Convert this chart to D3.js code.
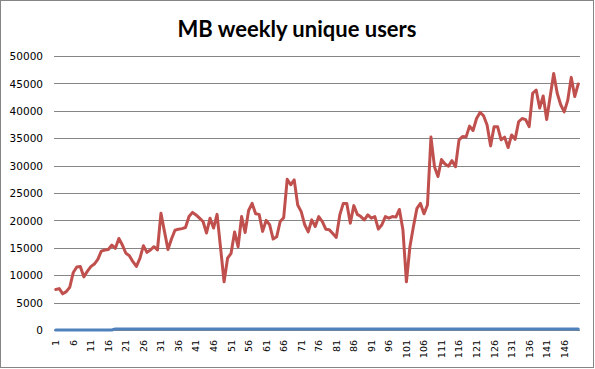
<!DOCTYPE html>
<html>
<head>
<meta charset="utf-8">
<script src="https://cdn.jsdelivr.net/npm/d3@7/dist/d3.min.js"></script>
<style>
  html, body { margin: 0; padding: 0; background: #fff; }
  svg { display: block; }
</style>
</head>
<body>
<svg id="chart" width="595" height="369"></svg>
<script>
const title = "MB weekly unique users";

const weeks = d3.range(1, 151);

const uniqueUsers = [
  7400, 7550, 6600, 7000, 7800, 10500, 11500, 11600, 9700, 10700,
  11560, 12040, 12900, 14400, 14600, 14700, 15500, 14900, 16700, 15500,
  14000, 13560, 12470, 11600, 13080, 15390, 14170, 14600, 15200, 14600,
  21300, 18000, 14700, 16600, 18200, 18400, 18500, 18700, 20700, 21470,
  21000, 20400, 19800, 17700, 20400, 18600, 21100, 15000, 8800, 13100,
  14000, 17900, 15200, 20700, 17800, 21800, 23100, 21200, 21100, 18000,
  20000, 19200, 16600, 17000, 19800, 20500, 27500, 26500, 27400, 22800,
  21600, 19200, 17900, 20100, 18900, 20700, 19800, 18400, 18300, 17600,
  16900, 21000, 23100, 23100, 19500, 22700, 21100, 20700, 20100, 21000,
  20400, 20700, 18400, 19200, 20700, 20400, 20700, 20600, 22000, 18300,
  8800, 15200, 18900, 22200, 23100, 21200, 22800, 35200, 29800, 28000,
  31100, 30300, 29900, 30900, 29800, 34700, 35300, 35200, 37200, 36400,
  38600, 39700, 39100, 37400, 33600, 37100, 37100, 34700, 35200, 33300,
  35600, 34800, 38000, 38600, 38400, 37100, 43200, 43800, 40500, 42700,
  38400, 42600, 46800, 43200, 41100, 39800, 41900, 46100, 42600, 44900
];

const otherSeries = [
  0, 0, 0, 0, 0, 0, 0, 0, 0, 0,
  0, 0, 0, 0, 0, 0, 0, 200, 200, 200,
  200, 200, 200, 200, 200, 200, 200, 200, 200, 200,
  200, 200, 200, 200, 200, 200, 200, 200, 200, 200,
  200, 200, 200, 200, 200, 200, 200, 200, 200, 200,
  200, 200, 200, 200, 200, 200, 200, 200, 200, 200,
  200, 200, 200, 200, 200, 200, 200, 200, 200, 200,
  200, 200, 200, 200, 200, 200, 200, 200, 200, 200,
  200, 200, 200, 200, 200, 200, 200, 200, 200, 200,
  200, 200, 200, 200, 200, 200, 200, 200, 200, 200,
  200, 200, 200, 200, 200, 200, 200, 200, 200, 200,
  200, 200, 200, 200, 200, 200, 200, 200, 200, 200,
  200, 200, 200, 200, 200, 200, 200, 200, 200, 200,
  200, 200, 200, 200, 200, 200, 200, 200, 200, 200,
  200, 200, 200, 200, 200, 200, 200, 200, 200, 200
];

const yTicks = [0, 5000, 10000, 15000, 20000, 25000, 30000, 35000, 40000, 45000, 50000];
const xTickLabels = weeks.filter(w => (w - 1) % 5 === 0);

const svg = d3.select("#chart");
const W = 595, H = 369;
const plot = { left: 54, right: 580, top: 56, bottom: 330 };

svg.append("rect")
  .attr("x", 0.5).attr("y", 0.5)
  .attr("width", W - 2).attr("height", H - 2)
  .attr("fill", "#fff").attr("stroke", "#868686").attr("stroke-width", 1);

const x = d3.scaleBand().domain(weeks).range([plot.left, plot.right]).paddingInner(0).paddingOuter(0);
const xc = d => x(d) + x.bandwidth() / 2;
const y = d3.scaleLinear().domain([0, 50000]).range([plot.bottom, plot.top]);

// gridlines
svg.append("g")
  .selectAll("line")
  .data(yTicks)
  .join("line")
  .attr("x1", plot.left).attr("x2", plot.right)
  .attr("y1", d => Math.round(y(d)) + 0.5).attr("y2", d => Math.round(y(d)) + 0.5)
  .attr("stroke", "#868686").attr("stroke-width", 1);

// y axis labels
const yAxis = d3.axisLeft(y).tickValues(yTicks).tickSize(0).tickPadding(0).tickFormat(d3.format("d"));
const gy = svg.append("g").attr("transform", `translate(43,0)`).call(yAxis);
gy.select(".domain").remove();
gy.selectAll("text")
  .attr("font-family", "DejaVu Sans, Verdana, sans-serif")
  .attr("font-size", "10.5px")
  .attr("fill", "#000")
  .attr("dy", "0.36em");

// x axis labels
const xAxis = d3.axisBottom(x).tickValues(xTickLabels).tickSize(0).tickPadding(0);
const gx = svg.append("g").attr("transform", `translate(0,${plot.bottom})`).call(xAxis);
gx.select(".domain").remove();
gx.selectAll("text")
  .attr("font-family", "DejaVu Sans, Verdana, sans-serif")
  .attr("font-size", "9.5px")
  .attr("fill", "#000")
  .attr("text-anchor", "end")
  .attr("transform", "rotate(-90)")
  .attr("x", -10)
  .attr("y", 0)
  .attr("dy", "0.36em");

const line = d3.line().x((d, i) => xc(weeks[i])).y(d => y(d)).curve(d3.curveLinear);

svg.append("path")
  .datum(otherSeries)
  .attr("d", line)
  .attr("fill", "none")
  .attr("stroke", "#4F81BD")
  .attr("stroke-width", 3)
  .attr("stroke-linejoin", "round")
  .attr("stroke-linecap", "round");

svg.append("path")
  .datum(uniqueUsers)
  .attr("d", line)
  .attr("fill", "none")
  .attr("stroke", "#C0504D")
  .attr("stroke-width", 3)
  .attr("stroke-linejoin", "round")
  .attr("stroke-linecap", "round");

svg.append("text")
  .attr("x", 297)
  .attr("y", 37)
  .attr("text-anchor", "middle")
  .attr("font-family", "Lato, Carlito, Calibri, sans-serif")
  .attr("font-weight", "bold")
  .attr("font-size", "22px")
  .attr("fill", "#000")
  .text(title);
</script>
</body>
</html>
